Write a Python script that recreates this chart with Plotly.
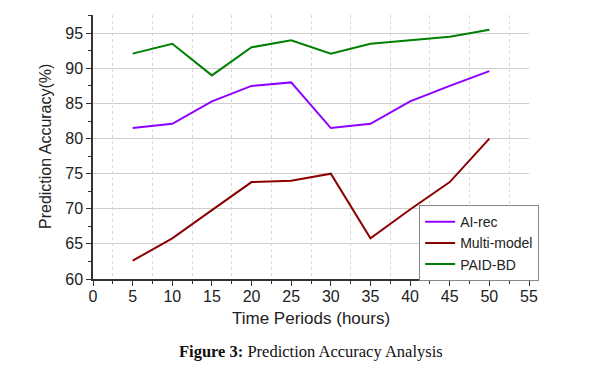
import plotly.graph_objects as go

hours = [5, 10, 15, 20, 25, 30, 35, 40, 45, 50]
ai_rec = [81.5, 82.1, 85.3, 87.5, 88.0, 81.5, 82.1, 85.3, 87.5, 89.6]
multi_model = [62.6, 65.8, 69.8, 73.8, 74.0, 75.0, 65.8, 69.9, 73.8, 80.0]
paid_bd = [92.1, 93.5, 89.0, 93.0, 94.0, 92.1, 93.5, 94.0, 94.5, 95.5]

series = [
    ("AI-rec", ai_rec, "#8f00ff"),
    ("Multi-model", multi_model, "#8b0000"),
    ("PAID-BD", paid_bd, "#008000"),
]

fig = go.Figure()
for name, vals, color in series:
    fig.add_trace(go.Scatter(x=hours, y=vals, mode="lines", name=name,
                             line=dict(color=color, width=2)))

sans = "Liberation Sans, Arial"
axis_font = dict(family=sans, size=16, color="#222")
fig.update_layout(
    width=591, height=357,
    margin=dict(l=85, r=70, t=7, b=86, autoexpand=False),
    plot_bgcolor="white", paper_bgcolor="white",
    font=dict(family=sans, size=14, color="#222"),
    xaxis=dict(
        range=[0, 55], dtick=5, tick0=0, automargin=False,
        showgrid=False, zeroline=False,
        showline=True, linecolor="#333", linewidth=1.5,
        ticks="outside", ticklen=5, tickcolor="#333",
        tickfont=axis_font, ticklabelstandoff=-3,
        minor=dict(dtick=2.5, ticks="outside", ticklen=3, tickcolor="#333",
                   showgrid=True, gridcolor="#d8d8d8", griddash="dot", gridwidth=1),
    ),
    yaxis=dict(
        range=[60, 97.6], dtick=5, tick0=60, automargin=False,
        showgrid=True, gridcolor="#cfcfcf", gridwidth=1,
        zeroline=False,
        showline=True, linecolor="#333", linewidth=1.5,
        ticks="outside", ticklen=5, tickcolor="#333",
        tickfont=axis_font,
        minor=dict(dtick=2.5, ticks="outside", ticklen=3, tickcolor="#333", showgrid=False),
    ),
    legend=dict(
        x=0.748, y=0.136, xanchor="left", yanchor="middle",
        bgcolor="white", bordercolor="#888", borderwidth=1,
        font=dict(size=14), tracegroupgap=0, itemwidth=30,
    ),
    showlegend=True,
)

# axis titles
fig.add_annotation(text="Time Periods (hours)", xref="paper", yref="paper",
                   x=0.5, y=0, yshift=-39, xanchor="center", yanchor="middle",
                   showarrow=False, font=dict(family=sans, size=17, color="#222"))
fig.add_annotation(text="Prediction Accuracy(%)", xref="paper", yref="paper",
                   x=0, xshift=-48, y=0.5, xanchor="center", yanchor="middle",
                   textangle=-90, showarrow=False,
                   font=dict(family=sans, size=16, color="#222"))

fig.add_annotation(
    text="<b>Figure 3:</b> Prediction Accuracy Analysis",
    xref="paper", yref="paper", x=0.5, y=0, yshift=-72, xanchor="center", yanchor="middle",
    showarrow=False,
    font=dict(family="Liberation Serif, Times New Roman", size=16.5, color="#111"),
)

fig.write_html("out.html")
